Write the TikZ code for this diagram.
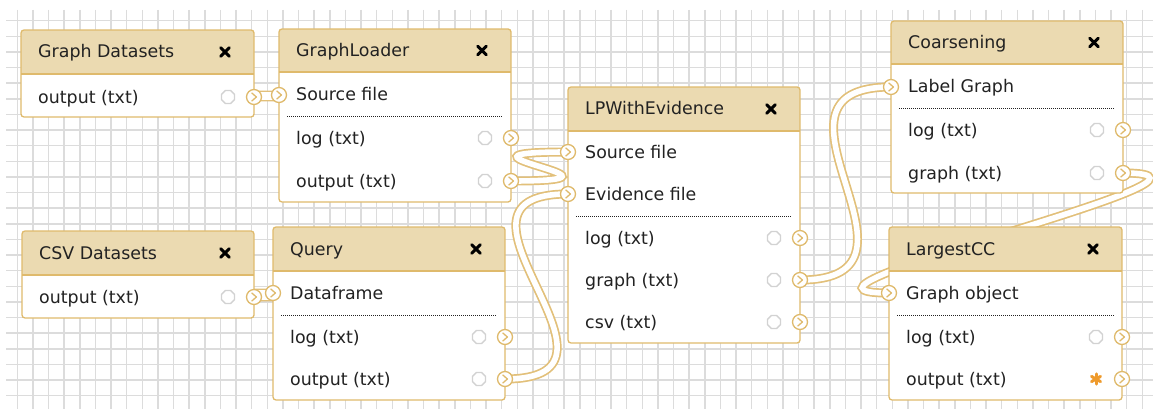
\documentclass[tikz,border=0pt]{standalone}
\usepackage{fontspec}
\setmainfont{DejaVu Sans}
\usetikzlibrary{shapes.geometric}

\pgfdeclarelayer{gridlayer}
\pgfdeclarelayer{wirelayer}
\pgfsetlayers{gridlayer,wirelayer,main}

\definecolor{gridline}{HTML}{DCDCDC}
\definecolor{hdrfill}{HTML}{EBDAB1}
\definecolor{boxedge}{HTML}{DFBA6C}
\definecolor{wirecol}{HTML}{E2C07A}
\definecolor{ink}{HTML}{222222}
\definecolor{idlegray}{HTML}{D2D2D2}
\definecolor{busyorange}{HTML}{EE9A2C}

\tikzset{
  wfframe/.style={rectangle, anchor=north west, fill=white, rounded corners=3pt,
    inner sep=0pt, outer sep=0pt},
  wftext/.style={anchor=base west, text=ink, inner sep=0pt,
    font=\fontsize{17.4}{20}\selectfont},
  wfclose/.style={inner sep=0pt, minimum size=0pt},
  wfcross/.style={line width=3pt, line cap=round, draw=black},
  wfport/.style={circle, draw=boxedge, fill=white, line width=1.3pt,
    minimum size=15pt, inner sep=0pt,
    path picture={\draw[boxedge, line width=1.3pt, line cap=round, line join=round]
      ([shift={(-2.2,-4)}]path picture bounding box.center) --
      ([shift={(2.4,0)}]path picture bounding box.center) --
      ([shift={(-2.2,4)}]path picture bounding box.center);}},
  wfidle/.style={regular polygon, regular polygon sides=8, draw=idlegray,
    line width=1.4pt, minimum size=14pt, inner sep=0pt},
  wfbusy/.style={circle, minimum size=17pt, inner sep=0pt,
    path picture={\foreach \a in {90,30,150}{
      \draw[busyorange, line width=3pt, line cap=round]
        ([shift={(\a:5.2)}]path picture bounding box.center) --
        ([shift={(\a+180:5.2)}]path picture bounding box.center);}}},
  wfdots/.style={draw=ink, line width=0.9pt, dash pattern=on 1pt off 1pt},
  wfwireouter/.style={draw=wirecol, line width=9pt},
  wfwireinner/.style={draw=white, line width=5.6pt},
}

% a workflow step: name, left, top, right, bottom, header bottom, title
\newcommand\wfbox[7]{%
  \node[wfframe, minimum width={(#4-#2)*1pt}, minimum height={(#5-#3)*1pt}] (#1) at (#2,#3) {};
  \begin{scope}
    \clip[rounded corners=3pt] (#2,#3) rectangle (#4,#5);
    \fill[hdrfill] (#2,#3) rectangle (#4,#6);
  \end{scope}
  \draw[boxedge, line width=1.3pt] (#2,#6) -- (#4,#6);
  \draw[boxedge, line width=1.3pt, rounded corners=3pt] (#2,#3) rectangle (#4,#5);
  \node[wftext] (#1-title) at ({#2+17},{(#3+#6)/2+6}) {#7};
  \node[wfclose] (#1-close) at ({#4-29},{(#3+#6)/2}) {};
  \draw[wfcross] ([shift={(-4.3,-4.3)}]#1-close.center) -- ([shift={(4.3,4.3)}]#1-close.center);
  \draw[wfcross] ([shift={(-4.3,4.3)}]#1-close.center) -- ([shift={(4.3,-4.3)}]#1-close.center);
}
% input row: port name, box left, y, label
\newcommand\wfin[4]{%
  \node[wftext] (#1-label) at ({#2+17},{#3+6}) {#4};
  \node[wfport] (#1) at (#2,#3) {};
}
% output row: port name, box left, box right, y, label, state style
\newcommand\wfout[6]{%
  \node[wftext] (#1-label) at ({#2+17},{#4+6}) {#5};
  \node[#6] (#1-state) at ({#3-26},#4) {};
  \node[wfport] (#1) at (#3,#4) {};
}
% dotted rule between inputs and outputs
\newcommand\wfsep[3]{\draw[wfdots] ({#1+8},#3) -- ({#2-8},#3);}
% connector between two ports
\newcommand\wfwire[2]{%
  \draw[wfwireouter] (#1.center) .. controls +(150,0) and +(-150,0) .. (#2.center);
  \draw[wfwireinner] (#1.center) .. controls +(150,0) and +(-150,0) .. (#2.center);
}

\begin{document}
\begin{tikzpicture}[x=1pt, y=-1pt]
\useasboundingbox (0,0) rectangle (1153,409);

\begin{pgfonlayer}{gridlayer}
  \fill[white] (0,0) rectangle (1153,409);
  \foreach \k in {0,...,72}
    \draw[gridline, line width=1.5pt] ({17.3+15.625*\k},10) -- ({17.3+15.625*\k},409);
  \foreach \k in {0,...,24}
    \draw[gridline, line width=1.5pt] (6,{20.7+15.625*\k}) -- (1153,{20.7+15.625*\k});
\end{pgfonlayer}

% Graph Datasets
\wfbox{gd}{21}{30}{254}{117}{74}{Graph Datasets}
\wfout{gd-out}{21}{254}{97}{output (txt)}{wfidle}

% GraphLoader
\wfbox{gl}{279}{29}{511}{202}{72}{GraphLoader}
\wfin{gl-src}{279}{95}{Source file}
\wfsep{279}{511}{116}
\wfout{gl-log}{279}{511}{138}{log (txt)}{wfidle}
\wfout{gl-out}{279}{511}{181}{output (txt)}{wfidle}

% LPWithEvidence
\wfbox{lp}{568}{87}{800}{343}{131}{LPWithEvidence}
\wfin{lp-src}{568}{152}{Source file}
\wfin{lp-evi}{568}{194}{Evidence file}
\wfsep{568}{800}{216}
\wfout{lp-log}{568}{800}{238}{log (txt)}{wfidle}
\wfout{lp-graph}{568}{800}{280}{graph (txt)}{wfidle}
\wfout{lp-csv}{568}{800}{322}{csv (txt)}{wfidle}

% Coarsening
\wfbox{co}{891}{21}{1123}{193}{64}{Coarsening}
\wfin{co-lbl}{891}{87}{Label Graph}
\wfsep{891}{1123}{108}
\wfout{co-log}{891}{1123}{130}{log (txt)}{wfidle}
\wfout{co-graph}{891}{1123}{173}{graph (txt)}{wfidle}

% LargestCC
\wfbox{cc}{889}{227}{1122}{400}{271}{LargestCC}
\wfin{cc-obj}{889}{293}{Graph object}
\wfsep{889}{1122}{315}
\wfout{cc-log}{889}{1122}{337}{log (txt)}{wfidle}
\wfout{cc-out}{889}{1122}{379}{output (txt)}{wfbusy}

% Query
\wfbox{qy}{273}{227}{505}{400}{271}{Query}
\wfin{qy-df}{273}{293}{Dataframe}
\wfsep{273}{505}{315}
\wfout{qy-log}{273}{505}{337}{log (txt)}{wfidle}
\wfout{qy-out}{273}{505}{379}{output (txt)}{wfidle}

% CSV Datasets
\wfbox{cs}{22}{231}{254}{318}{275}{CSV Datasets}
\wfout{cs-out}{22}{254}{297}{output (txt)}{wfidle}

% connectors run beneath the steps
\begin{pgfonlayer}{wirelayer}
  \wfwire{gd-out}{gl-src}
  \wfwire{cs-out}{qy-df}
  \wfwire{gl-out}{lp-src}
  \wfwire{qy-out}{lp-evi}
  \wfwire{lp-graph}{co-lbl}
  \wfwire{co-graph}{cc-obj}
\end{pgfonlayer}
\end{tikzpicture}
\end{document}
